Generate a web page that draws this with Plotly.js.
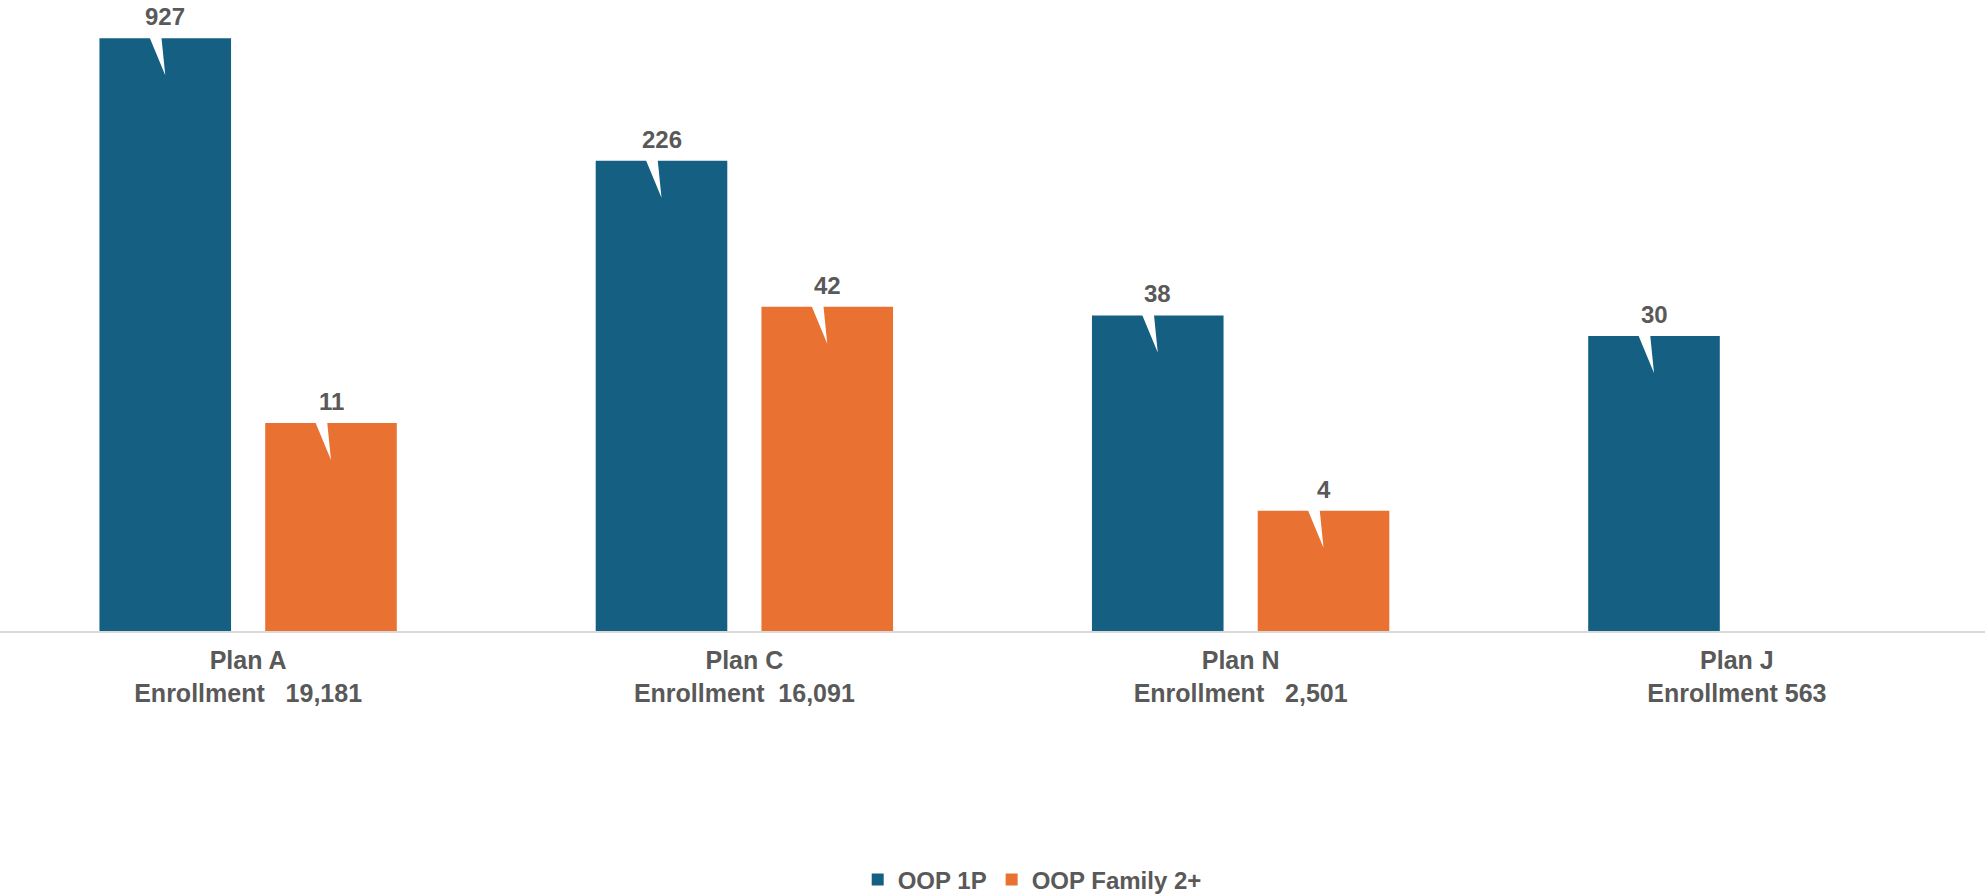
<!DOCTYPE html>
<html>
<head>
<meta charset="utf-8">
<script src="https://cdn.plot.ly/plotly-3.0.1.min.js"></script>
<style>html,body{margin:0;padding:0;background:#fff;}#chart{width:1985px;height:896px;}</style>
</head>
<body>
<div id="chart"></div>
<script>
// ---- data ----
const plans = ['Plan A', 'Plan C', 'Plan N', 'Plan J'];
const enrollment = ['\u00a0\u00a019,181', '\u00a016,091', '\u00a0\u00a02,501', '563'];
const oop1P = [927, 226, 38, 30];
const oopFamily = [11, 42, 4, null];
const seriesNames = ['OOP 1P', 'OOP Family 2+'];

// ---- style ----
const blue = '#156082', orange = '#E97132', textGray = '#595959';
const font = '"Liberation Sans", Arial, sans-serif';
const slotOffset = 0.167;      // half of a bar slot, in category units
const notchDepthDecades = 0.185; // white break notch depth (log decades)

const cats = plans.map((p, i) => p + '<br>Enrollment\u00a0' + enrollment[i]);

const traces = [
  {type: 'bar', name: seriesNames[0], x: cats, y: oop1P, marker: {color: blue}, hoverinfo: 'x+y'},
  {type: 'bar', name: seriesNames[1], x: cats, y: oopFamily, marker: {color: orange}, hoverinfo: 'x+y'}
];

// break notches, derived from values
const nx = [], ny = [];
const annotations = [];
[oop1P, oopFamily].forEach((series, s) => {
  series.forEach((v, i) => {
    if (v == null) return;
    const c = i + (s === 0 ? -slotOffset : slotOffset);
    nx.push(c - 0.033, c - 0.008, c, null);
    ny.push(v * 1.03, v * 1.03, v / Math.pow(10, notchDepthDecades), null);
    annotations.push({
      xref: 'x2', yref: 'y', x: c, y: Math.log10(v), text: String(v),
      showarrow: false, yanchor: 'bottom', yshift: 7, borderpad: 0,
      font: {family: font, size: 24, color: textGray, weight: 'bold'}
    });
  });
});
traces.push({
  type: 'scatter', mode: 'lines', x: nx, y: ny, xaxis: 'x2', yaxis: 'y',
  fill: 'toself', fillcolor: '#ffffff', line: {width: 0, color: 'rgba(0,0,0,0)'},
  hoverinfo: 'skip', showlegend: false
});

const layout = {
  width: 1985, height: 896,
  margin: {l: 0, r: 0, t: 10, b: 265, autoexpand: false},
  paper_bgcolor: '#fff', plot_bgcolor: '#fff',
  barmode: 'group', bargap: 0.332, bargroupgap: 0.206,
  showlegend: true,
  legend: {orientation: 'h', x: 0.52, xanchor: 'center', yref: 'container', y: 0.018, yanchor: 'middle',
           font: {family: font, size: 24, color: textGray, weight: 'bold'}, itemwidth: 30},
  xaxis: {type: 'category', showline: true, linecolor: '#d9d9d9', linewidth: 2, ticks: '',
          showgrid: false, zeroline: false, ticklabelstandoff: 6, automargin: false,
          tickfont: {family: font, size: 25, color: textGray, weight: 'bold'}},
  xaxis2: {overlaying: 'x', range: [-0.5, 3.5], visible: false, fixedrange: true},
  yaxis: {type: 'log', range: [0, 3.109], showgrid: false, zeroline: false, showline: false,
          showticklabels: false, ticks: '', automargin: false},
  annotations: annotations
};

Plotly.newPlot('chart', traces, layout, {displayModeBar: false, staticPlot: true});
</script>
</body>
</html>
